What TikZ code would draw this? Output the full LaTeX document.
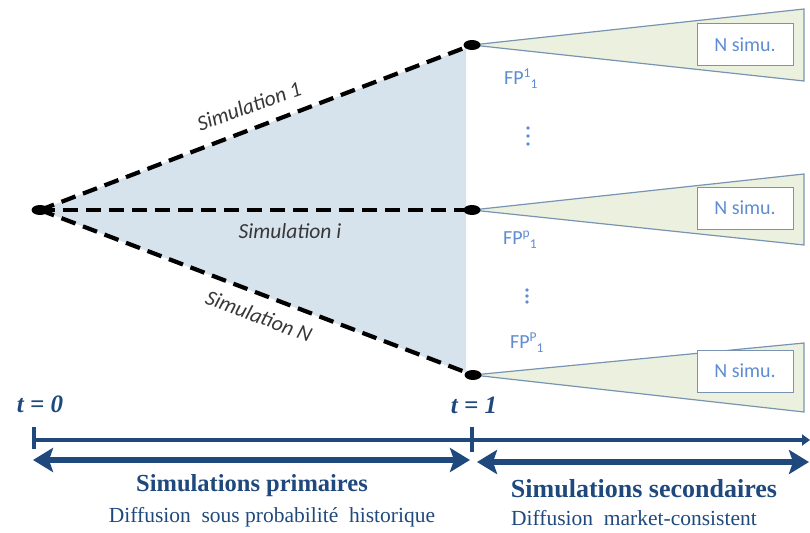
\documentclass[tikz,border=0pt]{standalone}
\usepackage{fontspec}
\setmainfont{Liberation Serif}
\newfontfamily\calib{Carlito}
\usetikzlibrary{arrows.meta,shapes.geometric}
\definecolor{fanblue}{RGB}{214,226,236}
\definecolor{fangreen}{RGB}{235,241,222}
\definecolor{edgeblue}{RGB}{120,148,178}
\definecolor{navy}{RGB}{31,73,125}
\definecolor{fptext}{RGB}{95,140,210}
\definecolor{simtext}{RGB}{55,55,55}
\newcommand{\fpl}[1]{FP\raisebox{0.7ex}{\fontsize{13.5}{13.5}\selectfont #1}\raisebox{-0.45ex}{\fontsize{13.5}{13.5}\selectfont 1}}
\tikzset{
  simline/.style={line width=4.2pt, dash pattern=on 15pt off 8pt, black},
  dotend/.style={ellipse, fill=black, minimum width=17pt, minimum height=10pt, inner sep=0pt},
  simlabel/.style={font=\calib\itshape\fontsize{21.5}{22}\selectfont, text=simtext},
  fplabel/.style={font=\calib\fontsize{20}{21}\selectfont, text=fptext, anchor=west, inner sep=0pt},
  vdot/.style={circle, fill=fptext, inner sep=0pt, minimum size=3.6pt},
  nbox/.style={draw=edgeblue, line width=1pt, fill=white, minimum width=96pt, minimum height=42pt, font=\calib\fontsize{20}{21}\selectfont, text=fptext},
  cone/.style={draw=edgeblue, line width=1.2pt, fill=fangreen},
  tlabel/.style={font=\bfseries\itshape\fontsize{25}{26}\selectfont, text=navy},
  axis/.style={line width=4.2pt, draw=navy},
  span/.style={line width=6pt, draw=navy, {Stealth[length=20pt,width=24pt,inset=4pt]}-{Stealth[length=20pt,width=24pt,inset=4pt]}},
  title/.style={font=\bfseries\fontsize{24.5}{26}\selectfont, text=navy},
  sub/.style={font=\fontsize{21.5}{23}\selectfont, text=navy},
}
\begin{document}
\begin{tikzpicture}[x=1pt,y=-1pt]
\useasboundingbox (0,0) rectangle (810,532);
% key points
\coordinate (o) at (40,210);
\coordinate (e1) at (472,45);
\coordinate (ei) at (472,210);
\coordinate (eN) at (473,375);
% blue fan
\fill[fanblue] (o) -- (466,48) -- (466,373) -- cycle;
% green cones
\draw[cone] (e1) -- (804,9) -- (804,81) -- cycle;
\draw[cone] (ei) -- (804,174) -- (804,245) -- cycle;
\draw[cone] (eN) -- (804,343) -- (804,412) -- cycle;
\node[nbox] (b1) at (745,45) {N simu.};
\node[nbox] (bi) at (745,208) {N simu.};
\node[nbox] (bN) at (745,371) {N simu.};
% dashed simulation paths
\draw[simline] (o) -- (e1);
\draw[simline] (o) -- (ei);
\draw[simline] (o) -- (eN);
\node[dotend] (d0) at (o) {};
\node[dotend] (d1) at (e1) {};
\node[dotend] (di) at (ei) {};
\node[dotend] (dN) at (eN) {};
% labels on paths
\node[simlabel, rotate=19.5] (s1) at (249,106) {Simulation 1};
\node[simlabel] (si) at (290,231) {Simulation i};
\node[simlabel, rotate=-20.5] (sN) at (259,316) {Simulation N};
% FP labels
\node[fplabel] (fp1) at (504,79) {\fpl{1}};
\node[fplabel] (fpp) at (503,240) {\fpl{p}};
\node[fplabel] (fpP) at (510,343) {\fpl{P}};
\foreach \y [count=\k] in {128,136,144} \node[vdot] (va\k) at (528,\y) {};
\foreach \y [count=\k] in {290,296,302} \node[vdot] (vb\k) at (527,\y) {};
% time labels
\node[tlabel] (t0) at (40,404) {t = 0};
\node[tlabel] (t1) at (474,405) {t = 1};
% timeline
\coordinate (a0) at (34,440);
\coordinate (aend) at (810,440);
\draw[axis, -{Triangle[length=8pt,width=11pt]}] (a0) -- (aend);
\draw[axis] (34,427) -- (34,449);
\draw[axis] (472,427) -- (472,452);
% spans
\coordinate (p0) at (33,460);
\coordinate (p1) at (470,460);
\coordinate (q0) at (477,462);
\coordinate (q1) at (809,462);
\draw[span] (p0) -- (p1);
\draw[span] (q0) -- (q1);
% titles
\node[title] (tp) at (252,486) {Simulations primaires};
\node[title, font=\bfseries\fontsize{26}{27}\selectfont] (ts) at (644,489) {Simulations secondaires};
\node[sub] (dp) at (272,517) {Diffusion\ \ sous probabilité\ \ historique};
\node[sub] (ds) at (634,518) {Diffusion\ \ market-consistent};
\end{tikzpicture}
\end{document}
